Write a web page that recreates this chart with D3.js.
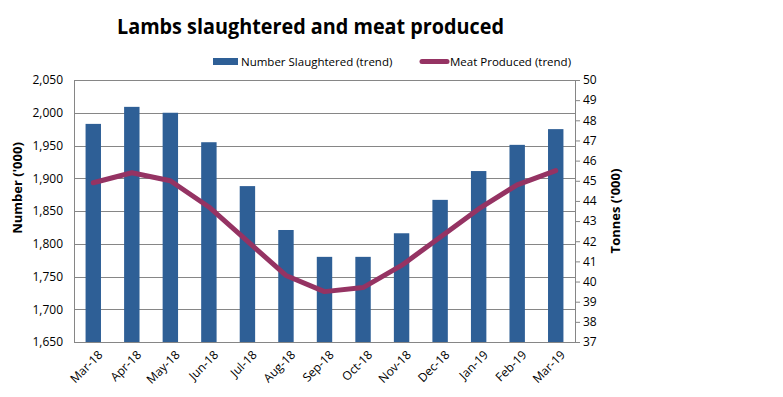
<!DOCTYPE html>
<html>
<head>
<meta charset="utf-8">
<script src="https://cdn.jsdelivr.net/npm/d3@7"></script>
<style>
  body { margin: 0; background: #fff; }
  text { font-family: "Open Sans", "DejaVu Sans", sans-serif; }
</style>
</head>
<body>
<div id="chart"></div>
<script>
let months = ["Mar-18", "Apr-18", "May-18", "Jun-18", "Jul-18", "Aug-18", "Sep-18",
              "Oct-18", "Nov-18", "Dec-18", "Jan-19", "Feb-19", "Mar-19"];
let slaughtered = [1983, 2009, 2000, 1955, 1888, 1821, 1780, 1780, 1816, 1867, 1911, 1951, 1975];
let meat = [44.9, 45.4, 45.0, 43.7, 42.0, 40.3, 39.5, 39.7, 40.8, 42.2, 43.6, 44.8, 45.5];
let leftTicks = [1650, 1700, 1750, 1800, 1850, 1900, 1950, 2000, 2050];
let rightTicks = [37, 38, 39, 40, 41, 42, 43, 44, 45, 46, 47, 48, 49, 50];

let svg = d3.select("#chart").append("svg")
  .attr("width", 783)
  .attr("height", 397);

let margin = {top: 80, right: 208, bottom: 55, left: 74};
let w = 783 - margin.left - margin.right;
let h = 397 - margin.top - margin.bottom;

let g = svg.append("g")
  .attr("transform", "translate(" + margin.left + "," + margin.top + ")");

let x = d3.scaleBand()
  .domain(months)
  .range([0, w])
  .paddingInner(0.6)
  .paddingOuter(0.3);

let y = d3.scaleLinear()
  .domain([1650, 2050])
  .range([h, 0]);

let y2 = d3.scaleLinear()
  .domain([37, 50])
  .range([h, 0]);

// gridlines
g.selectAll(".grid")
  .data(leftTicks)
  .enter().append("line")
  .attr("x1", 0)
  .attr("x2", w)
  .attr("y1", d => Math.round(y(d)) + 0.5)
  .attr("y2", d => Math.round(y(d)) + 0.5)
  .attr("stroke", "#868686")
  .attr("stroke-width", 1);

// bars
g.selectAll(".bar")
  .data(slaughtered)
  .enter().append("rect")
  .attr("x", (d, i) => x(months[i]))
  .attr("width", x.bandwidth())
  .attr("y", d => y(d))
  .attr("height", d => h - y(d))
  .attr("fill", "#2E5F96");

// line
let line = d3.line()
  .x((d, i) => x(months[i]) + x.bandwidth() / 2)
  .y(d => y2(d));

g.append("path")
  .datum(meat)
  .attr("d", line)
  .attr("fill", "none")
  .attr("stroke", "#953363")
  .attr("stroke-width", 5)
  .attr("stroke-linejoin", "round")
  .attr("stroke-linecap", "round");

// left axis
let yAxis = d3.axisLeft(y).tickValues(leftTicks).tickSize(0).tickPadding(11)
  .tickFormat(d3.format(","));
let ya = g.append("g").call(yAxis);
ya.select(".domain").attr("stroke", "#868686");
ya.selectAll("text").style("font-size", "12px").attr("fill", "#000");

// right axis
let y2Axis = d3.axisRight(y2).tickValues(rightTicks).tickSize(5).tickPadding(3);
let ra = g.append("g")
  .attr("transform", "translate(" + w + ",0)")
  .call(y2Axis);
ra.select(".domain").attr("stroke", "#868686");
ra.selectAll("line").attr("stroke", "#868686");
ra.selectAll("text").style("font-size", "12px").attr("fill", "#000");

// x axis
let xAxis = d3.axisBottom(x).tickSize(0).tickPadding(6);
let xa = g.append("g")
  .attr("transform", "translate(0," + h + ")")
  .call(xAxis);
xa.select(".domain").attr("stroke", "#868686");
xa.selectAll("text")
  .style("font-size", "12px")
  .attr("fill", "#000")
  .attr("text-anchor", "end")
  .attr("dx", "-0.2em")
  .attr("dy", "0.9em")
  .attr("transform", "rotate(-45)");

// axis titles
svg.append("text")
  .attr("transform", "translate(22,188) rotate(-90)")
  .attr("text-anchor", "middle")
  .style("font-size", "13px")
  .style("font-weight", "bold")
  .text("Number ('000)");

svg.append("text")
  .attr("transform", "translate(620," + (margin.top + h / 2) + ") rotate(-90)")
  .attr("text-anchor", "middle")
  .style("font-size", "13px")
  .style("font-weight", "bold")
  .text("Tonnes ('000)");

// title
svg.append("text")
  .attr("x", 117)
  .attr("y", 34)
  .attr("textLength", 387)
  .attr("lengthAdjust", "spacingAndGlyphs")
  .style("font-size", "21px")
  .style("font-weight", "bold")
  .text("Lambs slaughtered and meat produced");

// legend
svg.append("rect")
  .attr("x", 213).attr("y", 58)
  .attr("width", 25).attr("height", 7)
  .attr("fill", "#2E5F96");
svg.append("text")
  .attr("x", 241).attr("y", 66)
  .style("font-size", "11.5px")
  .text("Number Slaughtered (trend)");

svg.append("line")
  .attr("x1", 422).attr("x2", 447)
  .attr("y1", 61.5).attr("y2", 61.5)
  .attr("stroke", "#953363")
  .attr("stroke-width", 5)
  .attr("stroke-linecap", "round");
svg.append("text")
  .attr("x", 450).attr("y", 66)
  .style("font-size", "11.5px")
  .text("Meat Produced (trend)");
</script>
</body>
</html>
